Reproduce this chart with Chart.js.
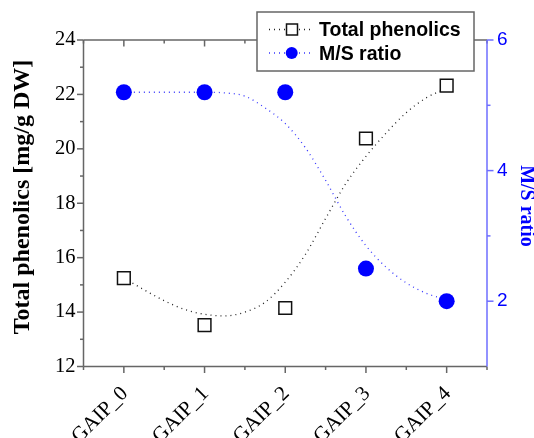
<!DOCTYPE html>
<html><head><meta charset="utf-8">
<script src="https://cdn.jsdelivr.net/npm/chart.js@4/dist/chart.umd.min.js"></script>
<style>html,body{margin:0;padding:0;background:#fff;overflow:hidden}canvas{display:block}</style>
</head><body>
<canvas id="c" width="534" height="438"></canvas>
<script>
const categories = ['GAIP_0', 'GAIP_1', 'GAIP_2', 'GAIP_3', 'GAIP_4'];
const phenolics = [15.25, 13.52, 14.15, 20.38, 22.32];
const msRatio = [5.2, 5.2, 5.2, 2.5, 2.0];
// fitted curves at positions along the category axis
const fitPositions = [0, 0.25, 0.5, 0.75, 1, 1.25, 1.5, 1.75, 2, 2.25, 2.5, 2.75, 3, 3.25, 3.5, 3.75, 4];
const phenolicsFit = [15.25, 14.82, 14.42, 14.10, 13.92, 13.86, 14.00, 14.36, 15.10, 16.12, 17.44, 18.72, 19.72, 20.58, 21.33, 21.88, 22.22];
const msRatioFit = [5.20, 5.20, 5.20, 5.20, 5.20, 5.19, 5.14, 4.96, 4.72, 4.35, 3.85, 3.30, 2.85, 2.52, 2.28, 2.12, 2.02];
const leftTicks = [12, 14, 16, 18, 20, 22, 24];
const rightTicks = [2, 4, 6];
const leftTitle = 'Total phenolics [mg/g DW]';
const rightTitle = 'M/S ratio';

const SERIF = '"Liberation Serif", "Times New Roman", Times, serif';
const SANS = '"Liberation Sans", Arial, Helvetica, sans-serif';
const GRAY = '#666666';
const AXBLUE = 'rgb(110,110,255)';

const framePlugin = {
  id: 'frame',
  beforeDatasetsDraw(chart) {
    const {ctx, chartArea: a, scales} = chart;
    const sx = scales.x, sy = scales.y, sy2 = scales.y2;
    const line = (x1, y1, x2, y2) => { ctx.beginPath(); ctx.moveTo(x1, y1); ctx.lineTo(x2, y2); ctx.stroke(); };
    ctx.save();
    ctx.lineWidth = 1.5;
    ctx.strokeStyle = GRAY;
    line(a.left, a.top, a.right, a.top);
    line(a.left, a.bottom, a.right, a.bottom);
    line(a.left, a.top, a.left, a.bottom);
    for (let v = sy.min; v <= sy.max; v += 1) {
      const p = sy.getPixelForValue(v);
      const len = (v % 2 === 0) ? 6.5 : 3.5;
      line(a.left - len, p, a.left, p);
    }
    for (let v = sx.min; v <= sx.max + 1e-9; v += 0.5) {
      const p = sx.getPixelForValue(v);
      const major = Math.abs(v - Math.round(v)) < 1e-9;
      const len = major ? 6.5 : 3.5;
      line(p, a.bottom, p, a.bottom + len);
      line(p, a.top, p, a.top + len);
    }
    ctx.strokeStyle = AXBLUE;
    line(a.right, a.top, a.right, a.bottom);
    for (let v = 2; v <= sy2.max; v += 1) {
      const p = sy2.getPixelForValue(v);
      const len = (v % 2 === 0) ? 6.5 : 3.5;
      line(a.right, p, a.right + len, p);
    }
    // left axis title
    ctx.save();
    ctx.translate(23, 197);
    ctx.rotate(-Math.PI / 2);
    ctx.fillStyle = '#000';
    ctx.font = 'bold 24px ' + SERIF;
    ctx.textAlign = 'center';
    ctx.textBaseline = 'middle';
    ctx.fillText(leftTitle, 0, 0);
    ctx.restore();
    // right axis title
    ctx.save();
    ctx.translate(526.5, 206);
    ctx.rotate(Math.PI / 2);
    ctx.fillStyle = '#0000ff';
    ctx.font = 'bold 20px ' + SERIF;
    ctx.textAlign = 'center';
    ctx.textBaseline = 'middle';
    ctx.fillText(rightTitle, 0, 0);
    ctx.restore();
    ctx.restore();
  }
};

const legendPlugin = {
  id: 'boxLegend',
  afterDraw(chart) {
    const ctx = chart.ctx;
    const ds = chart.data.datasets;
    const bx = 257, by = 12, bw = 217, bh = 59;
    ctx.save();
    ctx.fillStyle = '#fff';
    ctx.fillRect(bx, by, bw, bh);
    ctx.strokeStyle = GRAY;
    ctx.lineWidth = 1.5;
    ctx.strokeRect(bx, by, bw, bh);
    const rows = [
      {marker: ds[2], line: ds[0], cy: 29.5, base: 36},
      {marker: ds[3], line: ds[1], cy: 53, base: 59.5}
    ];
    rows.forEach(r => {
      ctx.save();
      ctx.strokeStyle = r.line.borderColor;
      ctx.lineWidth = r.line.borderWidth;
      ctx.setLineDash(r.line.borderDash);
      ctx.beginPath(); ctx.moveTo(269, r.cy); ctx.lineTo(311, r.cy); ctx.stroke();
      ctx.restore();
      if (r.marker.pointStyle === 'rect') {
        ctx.fillStyle = '#fff';
        ctx.fillRect(286.5, r.cy - 5.5, 11, 11);
        ctx.strokeStyle = r.marker.borderColor;
        ctx.lineWidth = 1.5;
        ctx.strokeRect(286.5, r.cy - 5.5, 11, 11);
      } else {
        ctx.fillStyle = r.marker.backgroundColor;
        ctx.beginPath(); ctx.arc(291.7, r.cy, 6, 0, Math.PI * 2); ctx.fill();
      }
      ctx.fillStyle = '#000';
      ctx.font = 'bold 19.5px ' + SANS;
      ctx.textAlign = 'left';
      ctx.textBaseline = 'alphabetic';
      ctx.fillText(r.marker.label, 319, r.base);
    });
    ctx.restore();
  }
};

new Chart(document.getElementById('c'), {
  type: 'line',
  data: {
    datasets: [
      {
        label: 'Total phenolics fit', yAxisID: 'y', order: 2,
        data: fitPositions.map((p, i) => ({x: p, y: phenolicsFit[i]})),
        borderColor: '#222', borderWidth: 1.3, borderDash: [1, 4],
        pointRadius: 0, cubicInterpolationMode: 'monotone', fill: false
      },
      {
        label: 'M/S ratio fit', yAxisID: 'y2', order: 2,
        data: fitPositions.map((p, i) => ({x: p, y: msRatioFit[i]})),
        borderColor: 'rgba(20,20,255,0.85)', borderWidth: 1.3, borderDash: [1, 4],
        pointRadius: 0, cubicInterpolationMode: 'monotone', fill: false
      },
      {
        type: 'scatter', label: 'Total phenolics', yAxisID: 'y', order: 1,
        data: phenolics.map((v, i) => ({x: i, y: v})),
        pointStyle: 'rect', pointRadius: 9, backgroundColor: '#fff',
        borderColor: '#111', borderWidth: 1.5, showLine: false
      },
      {
        type: 'scatter', label: 'M/S ratio', yAxisID: 'y2', order: 1,
        data: msRatio.map((v, i) => ({x: i, y: v})),
        pointStyle: 'circle', pointRadius: 8, backgroundColor: '#0000ff',
        borderColor: '#0000ff', borderWidth: 0, showLine: false
      }
    ]
  },
  options: {
    responsive: false,
    devicePixelRatio: 1,
    animation: false,
    events: [],
    layout: {padding: {top: 40, left: 0, right: 0, bottom: 0}},
    plugins: {legend: {display: false}, tooltip: {enabled: false}},
    scales: {
      x: {
        type: 'linear', position: 'bottom', min: -0.5, max: 4.5,
        afterBuildTicks: s => { s.ticks = categories.map((c, i) => ({value: i})); },
        afterFit: s => { s.height = 71.5; },
        grid: {display: false, drawTicks: false}, border: {display: false},
        ticks: {
          autoSkip: false, minRotation: 45, maxRotation: 45, padding: 15, labelOffset: 1, color: '#000',
          font: {family: SERIF, size: 21},
          callback: v => categories[v] !== undefined ? categories[v] : ''
        }
      },
      y: {
        position: 'left', min: 12, max: 24,
        afterBuildTicks: s => { s.ticks = leftTicks.map(v => ({value: v})); },
        afterFit: s => { s.width = 83.5; },
        grid: {display: false, drawTicks: false}, border: {display: false},
        ticks: {padding: 8, color: '#000', font: {family: SERIF, size: 20.5}},
        title: {display: false}
      },
      y2: {
        position: 'right', min: 1, max: 6,
        afterBuildTicks: s => { s.ticks = rightTicks.map(v => ({value: v})); },
        afterFit: s => { s.width = 47; },
        grid: {display: false, drawTicks: false}, border: {display: false},
        ticks: {padding: 10, color: '#0000ff', font: {family: SANS, size: 19}},
        title: {display: false}
      }
    }
  },
  plugins: [framePlugin, legendPlugin]
});
</script>
</body></html>
